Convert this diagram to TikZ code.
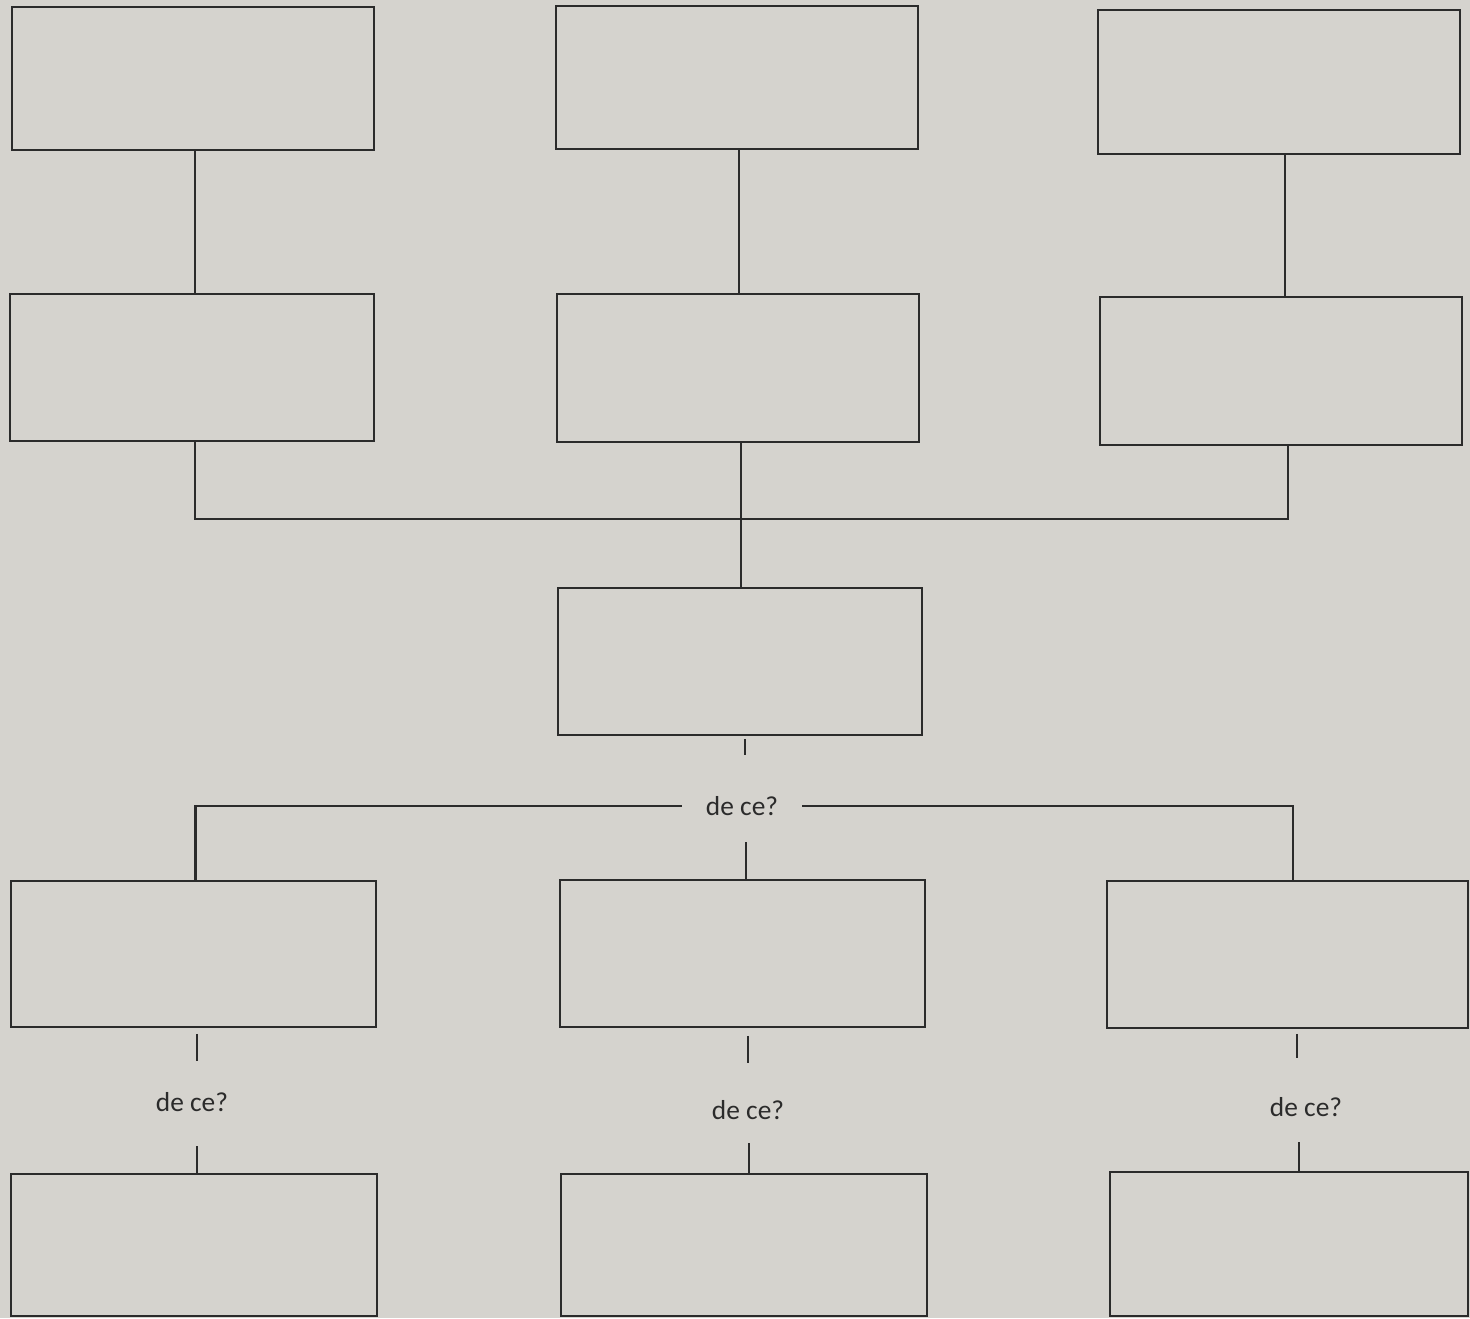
\documentclass[tikz,border=0pt]{standalone}
\usepackage{fontspec}
\setmainfont{Carlito}
\definecolor{paper}{HTML}{D5D3CE}
\definecolor{ink}{HTML}{2B2B2B}
\tikzset{
  box/.style={draw=ink, line width=0.8pt, rectangle, inner sep=0pt},
  conn/.style={draw=ink, line width=1.1pt},
  question/.style={text=ink, font=\fontsize{13.7pt}{16pt}\selectfont, inner xsep=12pt, inner ysep=0pt}
}
\newcommand{\mybox}[5]{\node[box, minimum width=#4*0.5pt, minimum height=#5*0.5pt] (#1) at (#2,#3) {};}
\begin{document}
\begin{tikzpicture}[x=0.5pt,y=-0.5pt]
\fill[paper] (0,0) rectangle (1470,1318);
\useasboundingbox (0,0) rectangle (1470,1318);
% row 1
\mybox{A1}{193}{78.5}{362}{143}
\mybox{B1}{737}{77.5}{362}{143}
\mybox{C1}{1279}{82}{362}{144}
% row 2
\mybox{A2}{192}{367.5}{364}{147}
\mybox{B2}{738}{368}{362}{148}
\mybox{C2}{1281}{371}{362}{148}
% middle
\mybox{M}{740}{661.5}{364}{147}
% row 4
\mybox{A4}{193.5}{954}{365}{146}
\mybox{B4}{742.5}{953.5}{365}{147}
\mybox{C4}{1287.5}{954.5}{361}{147}
% row 5
\mybox{A5}{194}{1245}{366}{142}
\mybox{B5}{744}{1245}{366}{142}
\mybox{C5}{1289}{1244}{358}{144}
% questions
\node[question] (q0) at (742,806) {de ce?};
\node[question] (q1) at (192,1102) {de ce?};
\node[question] (q2) at (748,1110) {de ce?};
\node[question] (q3) at (1306,1107) {de ce?};
\coordinate (bus) at (741,519);
% connectors row1 -> row2
\draw[conn] ([xshift=1pt]A1.south) -- ([xshift=1pt]A1.south |- A2.north);
\draw[conn] ([xshift=1pt]B1.south) -- ([xshift=1pt]B1.south |- B2.north);
\draw[conn] ([xshift=3pt]C1.south) -- ([xshift=3pt]C1.south |- C2.north);
% bus
\draw[conn] ([xshift=1.5pt]A2.south) |- (bus) -| ([xshift=3.5pt]C2.south);
\draw[conn] ([xshift=1.5pt]B2.south) -- ([xshift=1.5pt]B2.south |- M.north);
% middle question
\draw[conn] ([xshift=2.5pt,yshift=-1.5pt]M.south) -- ++(0,16);
\draw[conn] (q0.west) -| ([xshift=1pt]A4.north);
\draw[conn] (q0.east) -| ([xshift=2.75pt]C4.north);
\draw[conn] ([xshift=1.75pt]B4.north) -- ++(0,-37);
% lower questions
\draw[conn] ([xshift=1.75pt,yshift=-3pt]A4.south) -- ++(0,27);
\draw[conn] ([xshift=1.5pt]A5.north) -- ++(0,-27);
\draw[conn] ([xshift=2.75pt,yshift=-4pt]B4.south) -- ++(0,27);
\draw[conn] ([xshift=2.5pt]B5.north) -- ++(0,-30);
\draw[conn] ([xshift=4.75pt,yshift=-2.5pt]C4.south) -- ++(0,24);
\draw[conn] ([xshift=5pt]C5.north) -- ++(0,-29);
\end{tikzpicture}
\end{document}
